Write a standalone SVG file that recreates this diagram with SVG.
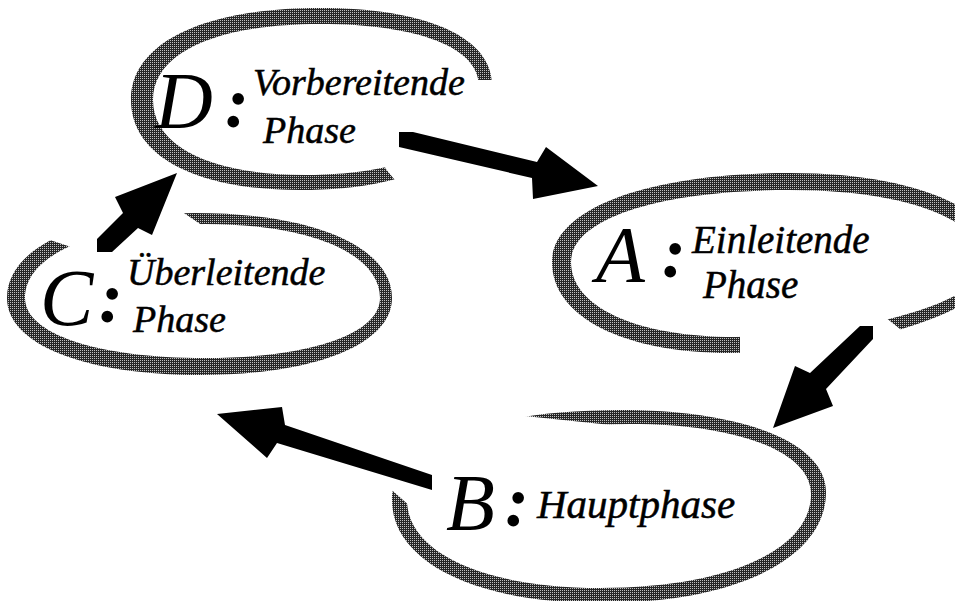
<svg xmlns="http://www.w3.org/2000/svg" width="955" height="601" viewBox="0 0 955 601">
<style>
.ring{fill:url(#dots);fill-rule:evenodd}
.big{font-family:"Liberation Serif","Times New Roman",serif;font-style:italic;font-size:80px;fill:#000}
.colon{font-family:"Liberation Serif","Times New Roman",serif;font-style:italic;font-weight:bold;font-size:72px;fill:#000}
.lbl{font-family:"Liberation Serif","Times New Roman",serif;font-style:italic;font-size:38px;fill:#000;stroke:#000;stroke-width:0.5}
.lbl39{font-size:39px}
.lbl41{font-size:41px}
.arrow{fill:#000}
</style>
<defs>
<pattern id="dots" width="2" height="2" patternUnits="userSpaceOnUse">
<rect width="2" height="2" fill="#262626"/>
<rect width="1" height="1" fill="#c0c0c0"/>
</pattern>
<mask id="mD" maskUnits="userSpaceOnUse" x="0" y="0" width="955" height="601">
<rect width="955" height="601" fill="#fff"/>
<polygon fill="#000" points="408,196 385,168 400,125 470,80 520,80 520,240 408,240"/>
</mask>
<mask id="mC" maskUnits="userSpaceOnUse" x="0" y="0" width="955" height="601">
<rect width="955" height="601" fill="#fff"/>
<polygon fill="#000" points="44,238 80,250 130,280 212,232 172,205 172,170 30,170 30,238"/>
</mask>
<mask id="mA" maskUnits="userSpaceOnUse" x="0" y="0" width="955" height="601">
<rect width="955" height="601" fill="#fff"/>
<polygon fill="#000" points="880,313 915,341 920,380 740,380 740,328 850,300"/>
</mask>
<mask id="mB" maskUnits="userSpaceOnUse" x="0" y="0" width="955" height="601">
<rect width="955" height="601" fill="#fff"/>
<polygon fill="#000" points="385,484 412,508 470,480 640,428 500,413.5 500,395 385,395"/>
</mask>
</defs>
<rect width="955" height="601" fill="#fff"/>

<g id="node-D">
<path class="ring" mask="url(#mD)" d="M131,100 C131,43 202.8,8 320,8 C426.6,8 492,37.3 492,85 C492,150.1 419,190 300,190 C195.2,190 131,155.8 131,100 Z M153,100 C153,52.9 216.5,24 320,24 C418.6,24 479,47.6 479,86 C479,141.2 412.9,175 305,175 C210.8,175 153,146.5 153,100 Z"/>
<text class="big" x="155" y="128">D</text>
<text class="colon" x="225" y="127">:</text>
<text class="lbl" x="253" y="95">Vorbereitende</text>
<text class="lbl" x="263" y="143">Phase</text>
</g>

<g id="node-A">
<path class="ring" mask="url(#mA)" d="M552,262 C552,208.6 647.2,173 790,173 C916,173 1000,209.8 1000,262 C1000,307.5 865,353 730,353 C623.2,353 552,316.6 552,262 Z M571,262 C571,218.8 658.6,190 790,190 C907,190 985,220 985,264 C985,300.5 860,337 735,337 C636.6,337 571,307 571,262 Z"/>
<text class="big" x="596" y="282">A</text>
<text class="colon" x="662" y="277">:</text>
<text class="lbl lbl39" x="692" y="253">Einleitende</text>
<text class="lbl lbl39" x="703" y="298">Phase</text>
</g>

<g id="node-B">
<path class="ring" mask="url(#mB)" d="M392,500 C392,446 483.2,410 620,410 C743.6,410 826,442.8 826,492 C826,558.6 735.6,603 600,603 C475.2,603 392,561.8 392,500 Z M407,500 C407,454.4 496.2,424 630,424 C738.6,424 811,452 811,494 C811,550.4 726.6,588 600,588 C484.2,588 407,552.8 407,500 Z"/>
<text class="big" x="446" y="530">B</text>
<text class="colon" x="505" y="526">:</text>
<text class="lbl lbl41" x="537" y="518">Hauptphase</text>
</g>

<g id="node-C">
<path class="ring" mask="url(#mC)" d="M7,298 C7,247 82.2,213 195,213 C313.2,213 392,247 392,298 C392,344.2 315.2,375 200,375 C84.2,375 7,344.2 7,298 Z M25,298 C25,253.6 97,224 205,224 C310,224 380,253.6 380,298 C380,334 310,358 205,358 C97,358 25,334 25,298 Z"/>
<text class="big" x="40" y="325">C</text>
<text class="colon" x="99" y="322">:</text>
<text class="lbl" x="127" y="285">Überleitende</text>
<text class="lbl" x="133" y="332">Phase</text>
</g>

<g id="connectors">
<polygon class="arrow" points="399,132 413,132 537,162 546,147 598,186 533,199 532,178 399,147"/>
<polygon class="arrow" points="860,326 873,326 873,339 826,389 833,406 773,428 795,366 810,373"/>
<polygon class="arrow" points="217,414 282,407 285,425 432,475 432,490 277,443 267,458"/>
<polygon class="arrow" points="177,173 115,197 123,213 97,239 97,252 112,252 138,228 152,235"/>
</g>
</svg>
